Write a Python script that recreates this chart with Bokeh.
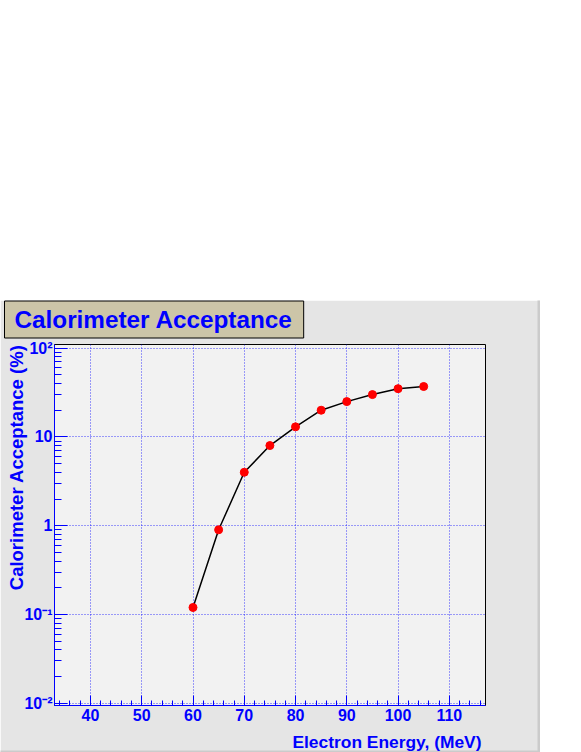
import math
from bokeh.plotting import figure
from bokeh.models import Range1d, SingleIntervalTicker, FixedTicker, Label
from bokeh.embed import file_html
from bokeh.resources import INLINE

# ---- data ----
energy = [60, 65, 70, 75, 80, 85, 90, 95, 100, 105]
acceptance = [0.12, 0.9, 4.0, 8.0, 13.0, 20.0, 25.0, 30.0, 35.0, 37.0]
y_ticks = [0.01, 0.1, 1, 10, 100]
y_tick_labels = ["10\u207b\u00b2", "10\u207b\u00b9", "1", "10", "10\u00b2"]
title_text = "Calorimeter Acceptance"
x_title = "Electron Energy, (MeV)"
y_title = "Calorimeter Acceptance (%)"

BLUE = "#0000ff"
FONT = "Liberation Sans"

W, H = 540, 452
TOP = 300
# frame in page pixels: x 53..485, y 344..705
FL, FRp, FTp, FBp = 53, 485, 344, 705

p = figure(width=W, height=H,
           x_range=Range1d(32.98, 117.06), y_range=Range1d(0.00944, 110),
           y_axis_type="log", output_backend="svg", toolbar_location=None,
           min_border_left=FL, min_border_right=W - FRp,
           min_border_top=FTp - TOP, min_border_bottom=H - (FBp - TOP),
           margin=(TOP, 0, 0, 0))

p.background_fill_color = "#f2f2f2"
p.border_fill_color = "#e5e5e5"
p.outline_line_color = "black"
p.outline_line_width = 1

# axes
xt = SingleIntervalTicker(interval=10, num_minor_ticks=5)
p.xaxis.ticker = xt
minors = [m * 10 ** e for e in range(-3, 3) for m in range(2, 10)]
yt = FixedTicker(ticks=y_ticks, minor_ticks=minors)
p.yaxis.ticker = yt
p.yaxis.major_label_overrides = {t: s for t, s in zip(y_ticks, y_tick_labels)}

for ax in (p.xaxis, p.yaxis):
    ax.axis_line_color = BLUE
    ax.axis_line_width = 1
    ax.major_tick_line_color = BLUE
    ax.minor_tick_line_color = BLUE
    ax.major_tick_out = 0
    ax.minor_tick_out = 0
    ax.major_label_text_color = BLUE
    ax.major_label_text_font = FONT
    ax.major_label_text_font_style = "bold"

p.xaxis.major_tick_in = 10
p.xaxis.minor_tick_in = 5
p.xaxis.major_label_text_font_size = "16px"
p.xaxis.major_label_standoff = 3
p.yaxis.major_tick_in = 13
p.yaxis.minor_tick_in = 7
p.yaxis.major_label_text_font_size = "16px"
p.yaxis.major_label_standoff = 2

# grid
p.xgrid.ticker = xt
p.ygrid.ticker = yt
for g in (p.xgrid, p.ygrid):
    g.grid_line_color = BLUE
    g.grid_line_alpha = 0.75
    g.grid_line_dash = "1 2"
    g.grid_line_width = 1

# data
p.line(energy, acceptance, line_color="black", line_width=1.5)
p.scatter(energy, acceptance, size=8, fill_color="#ff0000", line_color="#ff0000")

def mk_label(**kw):
    try:
        return Label(**kw)
    except Exception:
        kw.pop("padding", None)
        return Label(**kw)

# canvas bevel (right and bottom darker strips)
p.add_layout(mk_label(x=537, y=0, x_units="canvas", y_units="canvas",
                      text=" ", text_font_size="1px", text_align="left",
                      text_baseline="top", background_fill_color="#cbcbcb",
                      background_fill_alpha=1, padding=(0, 3, 452, 0)), "right")
p.add_layout(mk_label(x=0, y=450, x_units="canvas", y_units="canvas",
                      text=" ", text_font_size="1px", text_align="left",
                      text_baseline="top", background_fill_color="#cbcbcb",
                      background_fill_alpha=1, padding=(0, 540, 3, 0)), "below")

# title box (canvas coordinates relative to the figure, y downward)
bx, ty = 4, 19
pad = (10, 11, 5, 5)
shadow = mk_label(x=bx + 2, y=ty + 2, x_units="canvas", y_units="canvas",
                  text=title_text, text_align="left", text_baseline="middle",
                  text_font=FONT, text_font_style="bold", text_font_size="24.3px",
                  text_alpha=0, background_fill_color="black", background_fill_alpha=1,
                  padding=pad)
box = mk_label(x=bx, y=ty, x_units="canvas", y_units="canvas",
               text=title_text, text_align="left", text_baseline="middle",
               text_font=FONT, text_font_style="bold", text_font_size="24.3px",
               text_color=BLUE, background_fill_color="#ccc5a8", background_fill_alpha=1,
               border_line_color="black", border_line_width=1,
               padding=pad)
p.add_layout(shadow, "above")
p.add_layout(box, "above")

# axis titles (placed in side panels)
p.add_layout(Label(x=481, y=441, x_units="canvas", y_units="canvas",
                   text=x_title, text_align="right", text_baseline="middle",
                   text_font=FONT, text_font_style="bold", text_font_size="17.4px",
                   text_color=BLUE), "below")
p.add_layout(Label(x=16, y=44, x_units="canvas", y_units="canvas",
                   angle=math.pi / 2, text=y_title, text_align="right",
                   text_baseline="middle",
                   text_font=FONT, text_font_style="bold", text_font_size="18.5px",
                   text_color=BLUE), "left")

open("out.html", "w").write(file_html(p, INLINE))
